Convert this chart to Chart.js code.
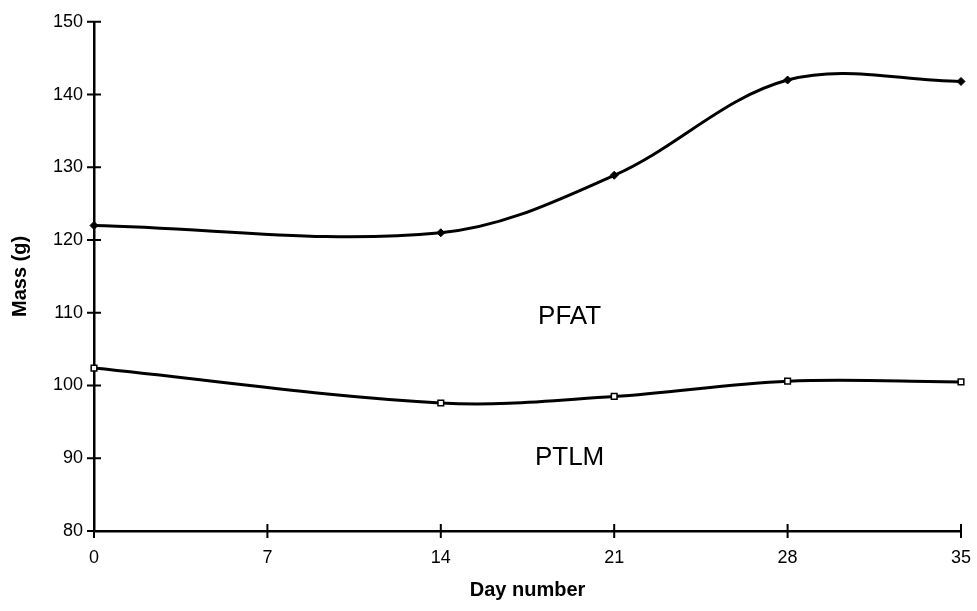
<!DOCTYPE html>
<html>
<head>
<meta charset="utf-8">
<title>Mass by day</title>
<script src="https://cdn.jsdelivr.net/npm/chart.js@4.4.1/dist/chart.umd.min.js"></script>
<style>
  html, body { margin: 0; padding: 0; background: #fff; }
  #wrap { width: 977px; height: 611px; }
</style>
</head>
<body>
<div id="wrap"><canvas id="massChart" width="977" height="611"></canvas></div>
<script>
const days = [0, 14, 21, 28, 35];
const pfatMass = [122.0, 121.0, 128.9, 142.0, 141.8];
const ptlmMass = [102.4, 97.6, 98.5, 100.6, 100.5];
const dayTicks = [0, 7, 14, 21, 28, 35];
const massTicks = [80, 90, 100, 110, 120, 130, 140, 150];

const FONT = '"Liberation Sans", Arial, sans-serif';

function toPoints(xs, ys) {
    return xs.map((x, i) => ({ x: x, y: ys[i] }));
}

// ticks cross the axis line, so both halves are drawn here
const crossTicks = {
    id: 'crossTicks',
    afterDraw(chart) {
        const { ctx, scales: { x, y } } = chart;
        const half = 7;
        ctx.save();
        ctx.strokeStyle = '#000';
        ctx.lineWidth = 2;
        ctx.beginPath();
        dayTicks.forEach(d => {
            const px = x.getPixelForValue(d);
            ctx.moveTo(px, y.bottom - half);
            ctx.lineTo(px, y.bottom + half);
        });
        massTicks.forEach(m => {
            const py = y.getPixelForValue(m);
            ctx.moveTo(x.left - half, py);
            ctx.lineTo(x.left + half, py);
        });
        ctx.stroke();
        ctx.restore();
    }
};

// series names written inside the plot
const seriesNames = {
    id: 'seriesNames',
    afterDraw(chart) {
        const { ctx, scales: { x, y } } = chart;
        ctx.save();
        ctx.fillStyle = '#000';
        ctx.font = '26px ' + FONT;
        ctx.textAlign = 'center';
        ctx.textBaseline = 'middle';
        ctx.fillText('PFAT', x.getPixelForValue(19.2), y.getPixelForValue(109.4));
        ctx.fillText('PTLM', x.getPixelForValue(19.2), y.getPixelForValue(90.1));
        ctx.restore();
    }
};

const ctx = document.getElementById('massChart').getContext('2d');

new Chart(ctx, {
    type: 'line',
    data: {
        datasets: [
            {
                label: 'PFAT',
                data: toPoints(days, pfatMass),
                borderColor: '#000',
                borderWidth: 3,
                tension: 0.35,
                clip: false,
                pointStyle: 'rectRot',
                pointRadius: 4,
                pointBackgroundColor: '#000',
                pointBorderColor: '#000',
                pointBorderWidth: 1
            },
            {
                label: 'PTLM',
                data: toPoints(days, ptlmMass),
                borderColor: '#000',
                borderWidth: 3,
                tension: 0.35,
                clip: false,
                pointStyle: 'rect',
                pointRadius: 4,
                pointBackgroundColor: '#fff',
                pointBorderColor: '#000',
                pointBorderWidth: 1.5
            }
        ]
    },
    options: {
        responsive: false,
        animation: false,
        layout: { padding: { top: 18, right: 16, left: 0, bottom: 0 } },
        plugins: {
            legend: { display: false },
            tooltip: { enabled: false }
        },
        scales: {
            x: {
                type: 'linear',
                min: 0,
                max: 35,
                afterBuildTicks: scale => { scale.ticks = dayTicks.map(v => ({ value: v })); },
                afterFit: scale => {
                    scale.height = 80;
                    scale.paddingLeft = 0;
                    scale.paddingRight = 0;
                },
                grid: { display: false, tickLength: 0 },
                border: { display: true, color: '#000', width: 2.5 },
                ticks: {
                    color: '#000',
                    padding: 16,
                    font: { family: FONT, size: 18 }
                },
                title: {
                    display: true,
                    text: 'Day number',
                    color: '#000',
                    padding: { top: 0, bottom: 9 },
                    font: { family: FONT, size: 20, weight: 'bold' }
                }
            },
            y: {
                min: 80,
                max: 150,
                afterBuildTicks: scale => { scale.ticks = massTicks.map(v => ({ value: v })); },
                afterFit: scale => { scale.width = 94; },
                grid: { display: false, tickLength: 0 },
                border: { display: true, color: '#000', width: 2.5 },
                ticks: {
                    color: '#000',
                    padding: 11,
                    font: { family: FONT, size: 18 }
                },
                title: {
                    display: true,
                    text: 'Mass (g)',
                    color: '#000',
                    padding: { top: 8, bottom: 0 },
                    font: { family: FONT, size: 20, weight: 'bold' }
                }
            }
        }
    },
    plugins: [crossTicks, seriesNames]
});
</script>
</body>
</html>
